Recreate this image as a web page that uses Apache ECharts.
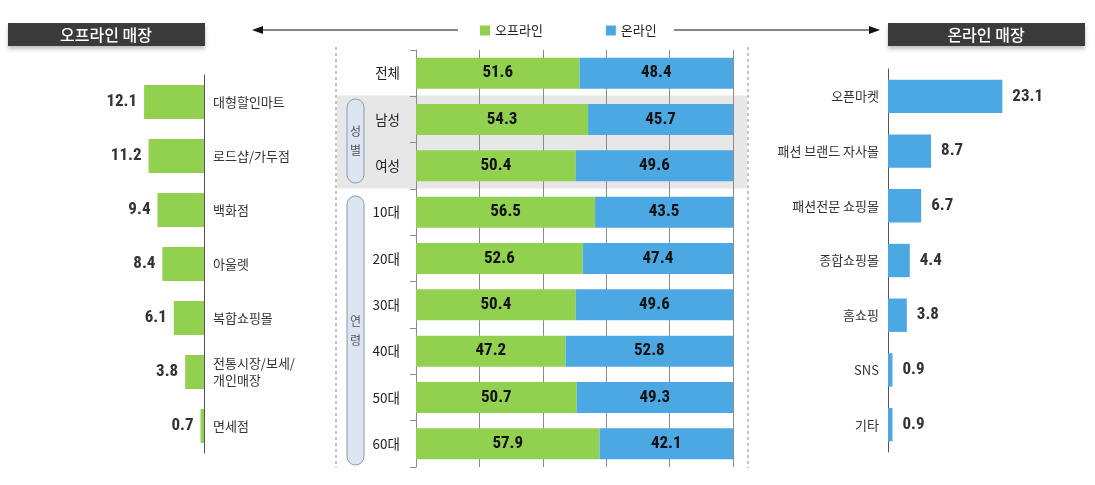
<!DOCTYPE html>
<html>
<head>
<meta charset="utf-8">
<script src="https://cdn.jsdelivr.net/npm/echarts@6/dist/echarts.min.js"></script>
<style>
html,body{margin:0;padding:0;background:#fff;}
#chart{width:1095px;height:485px;}
</style>
</head>
<body>
<div id="chart"></div>
<script>
// ---- data ----
const centerCategories = ['전체','남성','여성','10대','20대','30대','40대','50대','60대'];
const offlineShare = [51.6,54.3,50.4,56.5,52.6,50.4,47.2,50.7,57.9];
const onlineShare  = [48.4,45.7,49.6,43.5,47.4,49.6,52.8,49.3,42.1];

const offlineStores = ['대형할인마트','로드샵/가두점','백화점','아울렛','복합쇼핑몰','전통시장/보세/\n개인매장','면세점'];
const offlineStoreValues = [12.1,11.2,9.4,8.4,6.1,3.8,0.7];

const onlineStores = ['오픈마켓','패션 브랜드 자사몰','패션전문 쇼핑몰','종합쇼핑몰','홈쇼핑','SNS','기타'];
const onlineStoreValues = [23.1,8.7,6.7,4.4,3.8,0.9,0.9];

const legendNames = ['오프라인','온라인'];
const headerTitles = ['오프라인 매장','온라인 매장'];
const groupLabels = ['성\n별','연\n령'];

// ---- style ----
const GREEN = '#92D050';
const BLUE = '#4BA8E2';
const KR = "'Noto Sans CJK KR','Noto Sans',sans-serif";

// pick the narrowest installed font for the condensed numeric labels
function pickNumberFont() {
  const c = document.createElement('canvas').getContext('2d');
  const sample = '51.6 23.1 0.9';
  c.font = 'bold 20px monospace';
  const base = c.measureText(sample).width;
  const cands = ['Liberation Sans Narrow','DejaVu Sans Condensed','Roboto Condensed','Arial Narrow','Roboto','Lato','Liberation Sans'];
  let best = null, bestW = Infinity;
  cands.forEach(f => {
    c.font = "bold 20px '" + f + "', monospace";
    const w = c.measureText(sample).width;
    if (Math.abs(w - base) > 0.5 && w < bestW) { bestW = w; best = f; }
  });
  if (!best) best = 'Roboto';
  const narrow = /Narrow|Condensed/.test(best);
  return {family: "'" + best + "', sans-serif", size: narrow ? 17 : 16};
}
const NUMF = pickNumberFont();
const fmt = p => Number(p.value).toFixed(1);

const chart = echarts.init(document.getElementById('chart'), null, {renderer:'canvas'});

function header(x, text) {
  return {
    type:'group', children:[
      {type:'rect', shape:{x:x, y:23, width:197, height:23},
       style:{fill:'#3b3b3b', shadowBlur:4, shadowOffsetY:3, shadowColor:'rgba(0,0,0,0.25)'}},
      {type:'text', style:{x:x+98, y:35, text:text, fill:'#fff', font:'500 16px '+KR,
        textAlign:'center', textVerticalAlign:'middle'}}
    ]
  };
}
function pill(y, h, text) {
  return {
    type:'group', children:[
      {type:'rect', shape:{x:347, y:y, width:17, height:h, r:8.5},
       style:{fill:'#dce6f2', stroke:'#8a99ad', lineWidth:1}},
      {type:'text', style:{x:355.5, y:y+h/2, text:text, fill:'#555', font:'12px '+KR,
        textAlign:'center', textVerticalAlign:'middle', lineHeight:19}}
    ]
  };
}

const numLabel = (extra) => Object.assign({
  show:true, formatter:fmt, fontFamily:NUMF.family, fontWeight:'bold', fontSize:NUMF.size
}, extra);

const option = {
  backgroundColor:'#fff',
  animation:false,
  legend:{
    data:legendNames, left:480, top:24, itemWidth:10, itemHeight:10, itemGap:63, padding:0,
    icon:'rect', textStyle:{fontFamily:KR, fontSize:13, color:'#222'}
  },
  graphic:[
    {type:'rect', z:-10, shape:{x:337, y:95.5, width:410, height:93}, style:{fill:'#e7e7e7'}},
    {type:'line', shape:{x1:336, y1:47, x2:336, y2:468}, style:{stroke:'#8c8c8c', lineWidth:1, lineDash:[3,3]}},
    {type:'line', shape:{x1:748, y1:47, x2:748, y2:468}, style:{stroke:'#8c8c8c', lineWidth:1, lineDash:[3,3]}},
    header(8, headerTitles[0]),
    header(888, headerTitles[1]),
    {type:'line', shape:{x1:260, y1:30, x2:458, y2:30}, style:{stroke:'#111', lineWidth:1}},
    {type:'polygon', shape:{points:[[252,30],[263,26],[263,34]]}, style:{fill:'#111'}},
    {type:'line', shape:{x1:674, y1:30, x2:872, y2:30}, style:{stroke:'#111', lineWidth:1}},
    {type:'polygon', shape:{points:[[880,30],[869,26],[869,34]]}, style:{fill:'#111'}},
    pill(99, 84, groupLabels[0]),
    pill(196, 269, groupLabels[1])
  ],
  grid:[
    {left:55.5, width:148.5, top:75, height:378},
    {left:416, width:317, top:50, height:417},
    {left:888, width:148.5, top:69, height:383}
  ],
  xAxis:[
    {gridIndex:0, type:'value', min:0, max:30, inverse:true, show:false},
    {gridIndex:1, type:'value', min:0, max:100, interval:20,
     axisLine:{show:false}, axisTick:{show:false}, axisLabel:{show:false},
     splitLine:{show:true, lineStyle:{color:'#8c8c8c', width:1}}},
    {gridIndex:2, type:'value', min:0, max:30, show:false}
  ],
  yAxis:[
    {gridIndex:0, type:'category', data:offlineStores, inverse:true, position:'right',
     axisLine:{show:true, lineStyle:{color:'#555', width:1}}, axisTick:{show:false},
     axisLabel:{margin:9, align:'left', fontFamily:KR, fontSize:13, color:'#333', lineHeight:17}},
    {gridIndex:1, type:'category', data:centerCategories, inverse:true,
     axisLine:{show:true, lineStyle:{color:'#8c8c8c', width:1}},
     axisTick:{show:true, length:6, lineStyle:{color:'#8c8c8c'}},
     axisLabel:{margin:16, fontFamily:KR, fontSize:13.5, color:'#222'}},
    {gridIndex:2, type:'category', data:onlineStores, inverse:true, position:'left',
     axisLine:{show:true, lineStyle:{color:'#555', width:1}}, axisTick:{show:false},
     axisLabel:{margin:9, fontFamily:KR, fontSize:13, color:'#333'}}
  ],
  series:[
    {name:'오프라인 매장', type:'bar', xAxisIndex:0, yAxisIndex:0, data:offlineStoreValues,
     barCategoryGap:'37%', itemStyle:{color:GREEN},
     label:numLabel({position:'left', distance:7, color:'#333'})},
    {name:legendNames[0], type:'bar', stack:'share', xAxisIndex:1, yAxisIndex:1, data:offlineShare,
     barCategoryGap:'33%', itemStyle:{color:GREEN},
     label:numLabel({position:'inside', color:'#111'})},
    {name:legendNames[1], type:'bar', stack:'share', xAxisIndex:1, yAxisIndex:1, data:onlineShare,
     barCategoryGap:'33%', itemStyle:{color:BLUE},
     label:numLabel({position:'inside', color:'#111'})},
    {name:'온라인 매장', type:'bar', xAxisIndex:2, yAxisIndex:2, data:onlineStoreValues,
     barCategoryGap:'39%', itemStyle:{color:BLUE},
     label:numLabel({position:'right', distance:10, color:'#333'})}
  ]
};
chart.setOption(option);
</script>
</body>
</html>
